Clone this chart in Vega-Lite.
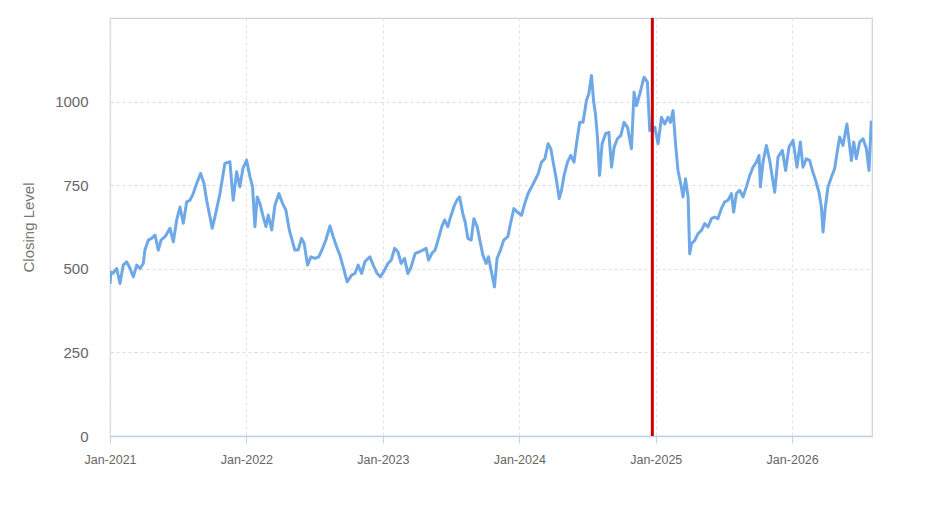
{
  "$schema": "https://vega.github.io/schema/vega-lite/v6.json",
  "description": "Closing level, Jan-2021 to mid-2026, with a red marker at end of 2024",
  "width": 762,
  "height": 418,
  "autosize": {"type": "none"},
  "padding": {"left": 110, "top": 18, "right": 63, "bottom": 90},
  "background": "white",
  "config": {
    "font": "Liberation Sans",
    "view": {"stroke": "#c9d2e0", "strokeWidth": 1.2},
    "axis": {
      "labelColor": "#666666",
      "titleColor": "#777777",
      "gridColor": "#dcdcdc",
      "gridDash": [3, 3],
      "gridWidth": 1
    }
  },
  "datasets": {
    "series": [
      {"year": 2021.000, "close": 455}, {"year": 2021.007, "close": 490}, {"year": 2021.024, "close": 487},
      {"year": 2021.049, "close": 501}, {"year": 2021.073, "close": 456}, {"year": 2021.097, "close": 511},
      {"year": 2021.122, "close": 521}, {"year": 2021.147, "close": 501}, {"year": 2021.171, "close": 476},
      {"year": 2021.196, "close": 511}, {"year": 2021.220, "close": 501}, {"year": 2021.244, "close": 516},
      {"year": 2021.256, "close": 556}, {"year": 2021.281, "close": 586}, {"year": 2021.305, "close": 591},
      {"year": 2021.330, "close": 601}, {"year": 2021.354, "close": 556}, {"year": 2021.374, "close": 586},
      {"year": 2021.403, "close": 596}, {"year": 2021.440, "close": 621}, {"year": 2021.464, "close": 581},
      {"year": 2021.489, "close": 646}, {"year": 2021.513, "close": 685}, {"year": 2021.537, "close": 636},
      {"year": 2021.562, "close": 700}, {"year": 2021.586, "close": 705}, {"year": 2021.610, "close": 725},
      {"year": 2021.635, "close": 755}, {"year": 2021.664, "close": 785}, {"year": 2021.689, "close": 755},
      {"year": 2021.708, "close": 705}, {"year": 2021.733, "close": 655}, {"year": 2021.749, "close": 621},
      {"year": 2021.769, "close": 655}, {"year": 2021.806, "close": 725}, {"year": 2021.842, "close": 815},
      {"year": 2021.879, "close": 820}, {"year": 2021.903, "close": 705}, {"year": 2021.928, "close": 790},
      {"year": 2021.952, "close": 745}, {"year": 2021.974, "close": 800}, {"year": 2022.001, "close": 825},
      {"year": 2022.026, "close": 775}, {"year": 2022.045, "close": 745}, {"year": 2022.062, "close": 626},
      {"year": 2022.079, "close": 715}, {"year": 2022.099, "close": 695}, {"year": 2022.119, "close": 661},
      {"year": 2022.143, "close": 626}, {"year": 2022.160, "close": 661}, {"year": 2022.185, "close": 616},
      {"year": 2022.209, "close": 690}, {"year": 2022.238, "close": 725}, {"year": 2022.265, "close": 695},
      {"year": 2022.289, "close": 676}, {"year": 2022.314, "close": 616}, {"year": 2022.331, "close": 591},
      {"year": 2022.355, "close": 556}, {"year": 2022.379, "close": 556}, {"year": 2022.404, "close": 591},
      {"year": 2022.423, "close": 576}, {"year": 2022.448, "close": 511}, {"year": 2022.473, "close": 536},
      {"year": 2022.502, "close": 531}, {"year": 2022.531, "close": 536}, {"year": 2022.558, "close": 561},
      {"year": 2022.582, "close": 586}, {"year": 2022.612, "close": 628}, {"year": 2022.636, "close": 596},
      {"year": 2022.661, "close": 566}, {"year": 2022.685, "close": 541}, {"year": 2022.709, "close": 506},
      {"year": 2022.738, "close": 461}, {"year": 2022.771, "close": 481}, {"year": 2022.795, "close": 486},
      {"year": 2022.819, "close": 511}, {"year": 2022.844, "close": 486}, {"year": 2022.868, "close": 521},
      {"year": 2022.905, "close": 536}, {"year": 2022.929, "close": 511}, {"year": 2022.958, "close": 486},
      {"year": 2022.983, "close": 476}, {"year": 2023.012, "close": 496}, {"year": 2023.037, "close": 516},
      {"year": 2023.061, "close": 526}, {"year": 2023.086, "close": 561}, {"year": 2023.110, "close": 551},
      {"year": 2023.134, "close": 516}, {"year": 2023.159, "close": 531}, {"year": 2023.183, "close": 486},
      {"year": 2023.207, "close": 506}, {"year": 2023.237, "close": 546}, {"year": 2023.269, "close": 551},
      {"year": 2023.293, "close": 556}, {"year": 2023.317, "close": 561}, {"year": 2023.335, "close": 526},
      {"year": 2023.359, "close": 546}, {"year": 2023.383, "close": 556}, {"year": 2023.408, "close": 591},
      {"year": 2023.432, "close": 626}, {"year": 2023.452, "close": 646}, {"year": 2023.476, "close": 626},
      {"year": 2023.496, "close": 655}, {"year": 2023.520, "close": 685}, {"year": 2023.542, "close": 705},
      {"year": 2023.562, "close": 715}, {"year": 2023.586, "close": 665}, {"year": 2023.603, "close": 640},
      {"year": 2023.623, "close": 591}, {"year": 2023.647, "close": 586}, {"year": 2023.667, "close": 650},
      {"year": 2023.691, "close": 626}, {"year": 2023.708, "close": 591}, {"year": 2023.733, "close": 541},
      {"year": 2023.757, "close": 516}, {"year": 2023.774, "close": 536}, {"year": 2023.793, "close": 496},
      {"year": 2023.818, "close": 446}, {"year": 2023.837, "close": 531}, {"year": 2023.862, "close": 556},
      {"year": 2023.886, "close": 586}, {"year": 2023.916, "close": 596}, {"year": 2023.936, "close": 636},
      {"year": 2023.960, "close": 680}, {"year": 2023.984, "close": 670}, {"year": 2024.016, "close": 660},
      {"year": 2024.040, "close": 695}, {"year": 2024.064, "close": 725}, {"year": 2024.089, "close": 744},
      {"year": 2024.114, "close": 764}, {"year": 2024.138, "close": 784}, {"year": 2024.163, "close": 819},
      {"year": 2024.187, "close": 829}, {"year": 2024.211, "close": 874}, {"year": 2024.231, "close": 859},
      {"year": 2024.255, "close": 804}, {"year": 2024.273, "close": 764}, {"year": 2024.292, "close": 710},
      {"year": 2024.309, "close": 734}, {"year": 2024.328, "close": 779}, {"year": 2024.353, "close": 819},
      {"year": 2024.377, "close": 839}, {"year": 2024.401, "close": 819}, {"year": 2024.419, "close": 874},
      {"year": 2024.443, "close": 938}, {"year": 2024.467, "close": 938}, {"year": 2024.492, "close": 1003},
      {"year": 2024.509, "close": 1023}, {"year": 2024.529, "close": 1078}, {"year": 2024.544, "close": 1003},
      {"year": 2024.558, "close": 963}, {"year": 2024.573, "close": 893}, {"year": 2024.588, "close": 779},
      {"year": 2024.607, "close": 874}, {"year": 2024.632, "close": 904}, {"year": 2024.656, "close": 908},
      {"year": 2024.676, "close": 804}, {"year": 2024.695, "close": 864}, {"year": 2024.719, "close": 889},
      {"year": 2024.744, "close": 899}, {"year": 2024.768, "close": 938}, {"year": 2024.793, "close": 923},
      {"year": 2024.822, "close": 859}, {"year": 2024.841, "close": 1028}, {"year": 2024.859, "close": 988},
      {"year": 2024.883, "close": 1023}, {"year": 2024.914, "close": 1073}, {"year": 2024.939, "close": 1058},
      {"year": 2024.956, "close": 913}, {"year": 2024.993, "close": 923}, {"year": 2025.017, "close": 874},
      {"year": 2025.042, "close": 953}, {"year": 2025.066, "close": 933}, {"year": 2025.090, "close": 953},
      {"year": 2025.108, "close": 938}, {"year": 2025.127, "close": 973}, {"year": 2025.147, "close": 864},
      {"year": 2025.163, "close": 794}, {"year": 2025.188, "close": 744}, {"year": 2025.200, "close": 715},
      {"year": 2025.218, "close": 769}, {"year": 2025.237, "close": 715}, {"year": 2025.249, "close": 545},
      {"year": 2025.262, "close": 575}, {"year": 2025.286, "close": 585}, {"year": 2025.310, "close": 605},
      {"year": 2025.335, "close": 615}, {"year": 2025.359, "close": 635}, {"year": 2025.383, "close": 625},
      {"year": 2025.408, "close": 650}, {"year": 2025.432, "close": 655}, {"year": 2025.456, "close": 650},
      {"year": 2025.481, "close": 680}, {"year": 2025.505, "close": 700}, {"year": 2025.530, "close": 705},
      {"year": 2025.555, "close": 725}, {"year": 2025.571, "close": 670}, {"year": 2025.591, "close": 725},
      {"year": 2025.615, "close": 735}, {"year": 2025.640, "close": 715}, {"year": 2025.664, "close": 745},
      {"year": 2025.689, "close": 779}, {"year": 2025.713, "close": 804}, {"year": 2025.738, "close": 819},
      {"year": 2025.757, "close": 839}, {"year": 2025.767, "close": 745}, {"year": 2025.786, "close": 819},
      {"year": 2025.811, "close": 869}, {"year": 2025.835, "close": 824}, {"year": 2025.872, "close": 729},
      {"year": 2025.896, "close": 834}, {"year": 2025.928, "close": 854}, {"year": 2025.952, "close": 794},
      {"year": 2025.977, "close": 864}, {"year": 2026.006, "close": 884}, {"year": 2026.035, "close": 804},
      {"year": 2026.060, "close": 879}, {"year": 2026.079, "close": 804}, {"year": 2026.104, "close": 829},
      {"year": 2026.128, "close": 824}, {"year": 2026.148, "close": 794}, {"year": 2026.172, "close": 764},
      {"year": 2026.196, "close": 729}, {"year": 2026.214, "close": 685}, {"year": 2026.226, "close": 610},
      {"year": 2026.243, "close": 685}, {"year": 2026.262, "close": 744}, {"year": 2026.287, "close": 774},
      {"year": 2026.311, "close": 799}, {"year": 2026.328, "close": 844}, {"year": 2026.348, "close": 894},
      {"year": 2026.372, "close": 869}, {"year": 2026.401, "close": 933}, {"year": 2026.416, "close": 884},
      {"year": 2026.434, "close": 824}, {"year": 2026.451, "close": 879}, {"year": 2026.470, "close": 829},
      {"year": 2026.495, "close": 879}, {"year": 2026.519, "close": 889}, {"year": 2026.544, "close": 859},
      {"year": 2026.563, "close": 794}, {"year": 2026.580, "close": 943}
    ],
    "marker": [{"year": 2024.975}]
  },
  "layer": [
    {
      "data": {"name": "series"},
      "mark": {"type": "line", "color": "#6fa8e6", "strokeWidth": 3, "strokeJoin": "round", "clip": true},
      "encoding": {
        "x": {
          "field": "year",
          "type": "quantitative",
          "scale": {"domain": [2021, 2026.585], "nice": false, "zero": false},
          "axis": {
            "title": null,
            "values": [2021, 2022, 2023, 2024, 2025, 2026],
            "labelExpr": "'Jan-' + datum.value",
            "labelFlush": false,
            "labelOverlap": false,
            "labelFontSize": 12.5,
            "labelPadding": 10,
            "domainColor": "#c5d0e6",
            "domainWidth": 1.5,
            "tickColor": "#c5d0e6",
            "tickSize": 7,
            "grid": true,
            "gridColor": "#e2e2e2",
            "gridDash": [3, 3]
          }
        },
        "y": {
          "field": "close",
          "type": "quantitative",
          "scale": {"domain": [0, 1250], "nice": false},
          "axis": {
            "title": "Closing Level",
            "titleFontSize": 15,
            "titleFontWeight": "normal",
            "titlePadding": 18,
            "values": [0, 250, 500, 750, 1000],
            "format": "d",
            "labelFontSize": 15,
            "labelPadding": 22,
            "ticks": false,
            "domain": false,
            "grid": true
          }
        }
      }
    },
    {
      "data": {"name": "marker"},
      "mark": {"type": "rule", "color": "#cc0000", "strokeWidth": 3},
      "encoding": {
        "x": {"field": "year", "type": "quantitative"}
      }
    }
  ]
}
